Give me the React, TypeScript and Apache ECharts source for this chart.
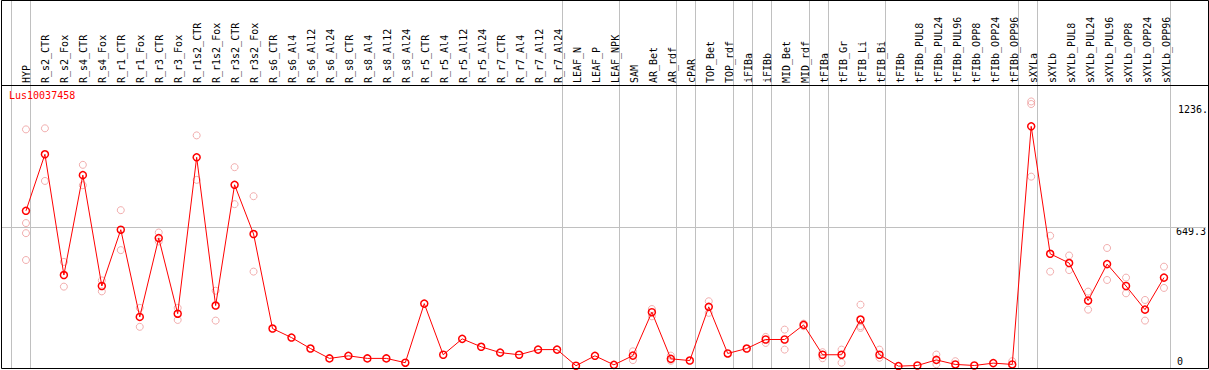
import React, { useEffect, useRef } from "react";
import * as echarts from "echarts";

const geneId = "Lus10037458";

const categories = [
  "HYP", "R_s2_CTR", "R_s2_Fox", "R_s4_CTR", "R_s4_Fox", "R_r1_CTR", "R_r1_Fox", "R_r3_CTR", "R_r3_Fox",
  "R_r1s2_CTR", "R_r1s2_Fox", "R_r3s2_CTR", "R_r3s2_Fox", "R_s6_CTR", "R_s6_Al4", "R_s6_Al12", "R_s6_Al24",
  "R_s8_CTR", "R_s8_Al4", "R_s8_Al12", "R_s8_Al24", "R_r5_CTR", "R_r5_Al4", "R_r5_Al12", "R_r5_Al24",
  "R_r7_CTR", "R_r7_Al4", "R_r7_Al12", "R_r7_Al24", "LEAF_N", "LEAF_P", "LEAF_NPK", "SAM", "AR_Bet", "AR_rdf",
  "cPAR", "TOP_Bet", "TOP_rdf", "iFIBa", "iFIBb", "MID_Bet", "MID_rdf", "tFIBa", "tFIB_Gr", "tFIB_Li", "tFIB_Bi",
  "tFIBb", "tFIBb_PUL8", "tFIBb_PUL24", "tFIBb_PUL96", "tFIBb_OPP8", "tFIBb_OPP24", "tFIBb_OPP96",
  "sXYLa", "sXYLb", "sXYLb_PUL8", "sXYLb_PUL24", "sXYLb_PUL96", "sXYLb_OPP8", "sXYLb_OPP24", "sXYLb_OPP96",
];

const means = [
  727, 990, 428, 893, 377, 639, 233, 600, 248, 976, 286, 848, 619, 179, 137, 86, 40, 52, 40, 40, 20, 295, 57,
  131, 94, 67, 57, 81, 81, 6, 52, 10, 53, 255, 38, 30, 280, 63, 86, 128, 128, 196, 57, 57, 221, 57, 4, 7, 33,
  12, 7, 18, 12, 1120, 527, 484, 309, 479, 377, 267, 416,
];

const replicates: number[][] = [
  [1106, 670, 623, 498], [1111, 866], [489, 374], [941, 846], [403, 352], [730, 544], [275, 187], [626, 584],
  [275, 219], [1078, 871], [355, 216], [930, 758], [795, 444],
  [], [], [], [], [], [], [], [], [], [], [], [], [], [], [], [], [], [], [],
  [73, 32], [270, 236], [53, 29], [], [306, 252], [], [], [140, 112], [174, 81], [202, 190], [69, 41],
  [81, 20], [290, 190, 182], [81, 43], [], [], [58, 13], [27], [], [], [27],
  [1236, 1224, 886], [611, 444], [519, 451], [351, 267], [554, 405], [416, 343], [312, 216], [467, 368],
];

// group separators drawn just after these category indices
const separatorsAfter = [-1, 0, 28, 31, 34, 35, 37, 38, 39, 41, 42, 45, 52, 53, 60];

const axisMax = 1298.6;
const midTick = 649.3;
const maxLabel = "1236.";

const MONO = "DejaVu Sans Mono";

export default function App() {
  const ref = useRef<HTMLDivElement>(null);

  useEffect(() => {
    if (!ref.current) return;
    const chart = echarts.init(ref.current, null, { renderer: "svg" });

    const n = categories.length;
    const step = 19;
    const firstX = 26;
    const gridLeft = 1;
    const gridWidth = 1207;
    const xMin = -(firstX - gridLeft) / step;
    const xMax = xMin + gridWidth / step;

    const repData: number[][] = [];
    replicates.forEach((arr, i) => arr.forEach((v) => repData.push([i, v])));
    const meanData = means.map((v, i) => [i, v]);

    chart.setOption({
      animation: false,
      title: {
        text: geneId,
        left: 9,
        top: 90,
        padding: 0,
        textStyle: { color: "#ff0000", fontFamily: MONO, fontSize: 10, fontWeight: "normal" },
      },
      graphic: [
        {
          type: "rect",
          shape: { x: 1.5, y: 0.5, width: 1207, height: 368 },
          style: { fill: "none", stroke: "#000", lineWidth: 1 },
          z: 100,
        },
        {
          type: "line",
          shape: { x1: 1, y1: 85.5, x2: 1208, y2: 85.5 },
          style: { stroke: "#000", lineWidth: 1 },
          z: 100,
        },
        {
          type: "text",
          left: 1178,
          top: 104,
          style: { text: maxLabel, fill: "#000", font: `10px '${MONO}'` },
          z: 100,
        },
      ],
      grid: [
        { left: gridLeft, top: 88, width: gridWidth, height: 279 },
        { left: firstX - step / 2, top: 85, width: step * n, height: 1 },
        { left: gridLeft, top: 0, width: gridWidth, height: 369 },
      ],
      xAxis: [
        { type: "value", gridIndex: 0, min: xMin, max: xMax, show: false },
        {
          type: "category",
          gridIndex: 1,
          position: "top",
          data: categories,
          boundaryGap: true,
          axisLine: { show: false },
          axisTick: { show: false },
          splitLine: { show: false },
          axisLabel: {
            rotate: 90,
            interval: 0,
            margin: 2,
            color: "#000",
            fontFamily: MONO,
            fontSize: 10,
          },
        },
        { type: "value", gridIndex: 2, min: xMin, max: xMax, show: false },
      ],
      yAxis: [
        {
          type: "value",
          gridIndex: 0,
          position: "right",
          min: 0,
          max: axisMax,
          interval: midTick,
          axisLine: { show: false },
          axisTick: { show: false },
          splitLine: { show: false },
          axisLabel: {
            inside: true,
            align: "left",
            margin: 31,
            showMaxLabel: false,
            fontFamily: MONO,
            fontSize: 10,
            color: "#000",
            formatter: (v: number) => (v === 0 ? "{zero|0}" : v === midTick ? "{mid|" + midTick + "}" : ""),
            rich: {
              zero: { padding: [0, 0, 11, 2], fontFamily: MONO, fontSize: 10, color: "#000" },
              mid: { padding: [8, 0, 0, 1], backgroundColor: "#fff", fontFamily: MONO, fontSize: 10, color: "#000" },
            },
          },
        },
        { type: "value", gridIndex: 1, show: false },
        { type: "value", gridIndex: 2, min: 0, max: 1, show: false },
      ],
      series: [
        {
          type: "custom",
          xAxisIndex: 2,
          yAxisIndex: 2,
          silent: true,
          z: 0,
          data: separatorsAfter.map((i) => [i + 0.25, 0]),
          renderItem: (params: any, api: any) => {
            const xv = api.value(0);
            const p0 = api.coord([xv, 0]);
            const p1 = api.coord([xv, 1]);
            const x = Math.floor(p0[0]) + 0.5;
            return {
              type: "line",
              shape: { x1: x, y1: p0[1], x2: x, y2: p1[1] },
              style: { stroke: "#c0c0c0", lineWidth: 1 },
            };
          },
        },
        {
          type: "scatter",
          xAxisIndex: 0,
          yAxisIndex: 0,
          data: repData,
          symbol: "circle",
          symbolSize: 7,
          z: 2,
          itemStyle: { color: "rgba(255,255,255,0)", borderColor: "#ee9a9a", borderWidth: 1 },
        },
        {
          type: "line",
          xAxisIndex: 0,
          yAxisIndex: 0,
          data: meanData,
          symbol: "circle",
          symbolSize: 7,
          showAllSymbol: true,
          z: 3,
          lineStyle: { color: "#ff0000", width: 1 },
          itemStyle: { color: "rgba(255,255,255,0)", borderColor: "#ff0000", borderWidth: 1.5 },
          markLine: {
            silent: true,
            symbol: "none",
            z: 1,
            label: { show: false },
            lineStyle: { color: "#c0c0c0", type: "solid", width: 1 },
            data: [{ yAxis: midTick }],
          },
        },
      ],
    });

    return () => chart.dispose();
  }, []);

  return (
    <div
      ref={ref}
      style={{ position: "fixed", left: 0, top: 0, width: 1209, height: 370, background: "#fff" }}
    />
  );
}
